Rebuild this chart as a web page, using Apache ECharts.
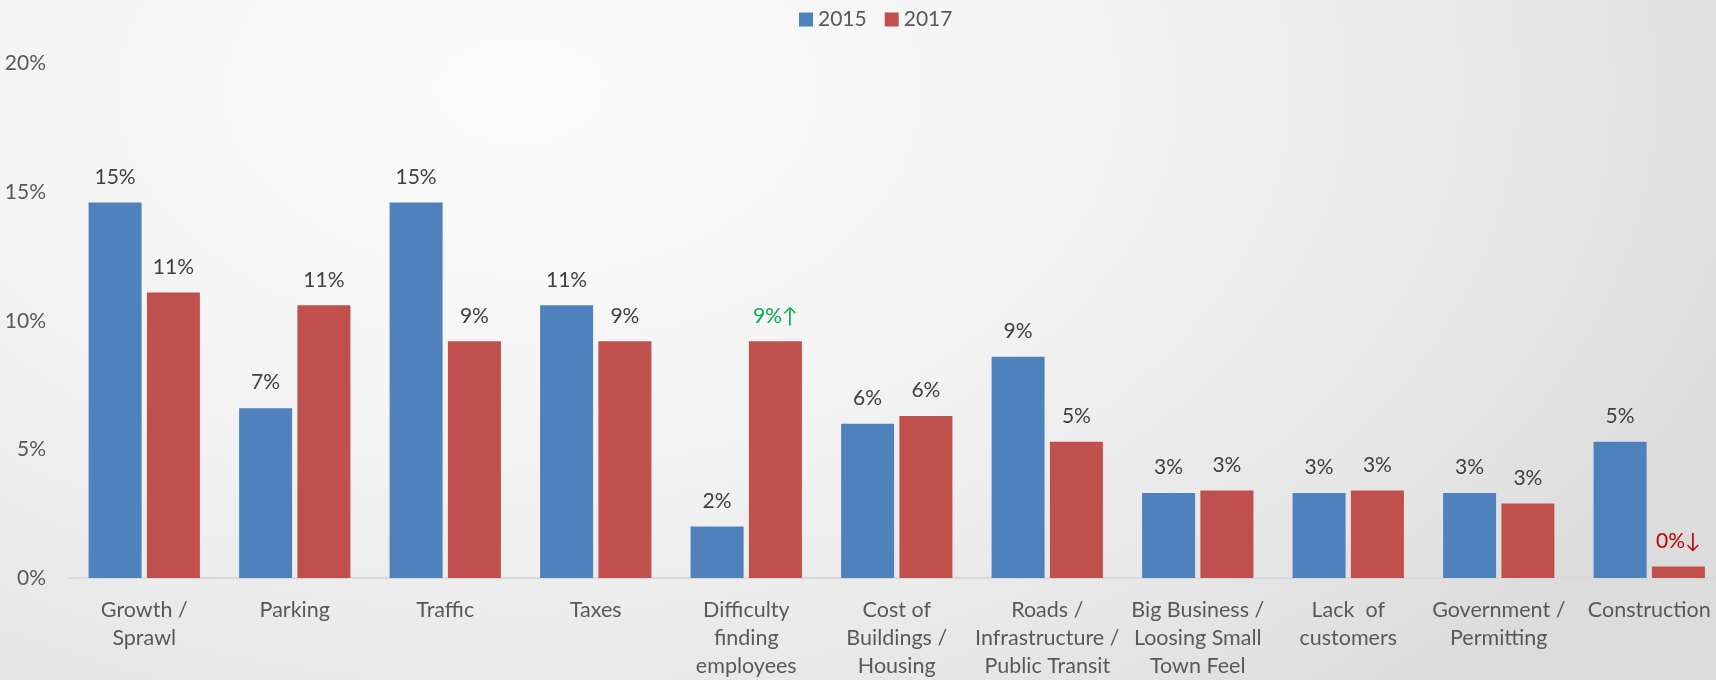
<!DOCTYPE html>
<html>
<head>
<meta charset="utf-8">
<title>Biggest issues facing local business, 2015 vs 2017</title>
<script src="https://cdn.jsdelivr.net/npm/echarts@6/dist/echarts.min.js"></script>
<style>
  html, body { margin: 0; padding: 0; }
  body {
    width: 1716px; height: 680px; overflow: hidden;
    background: radial-gradient(ellipse 1300px 820px at 520px 90px, #fcfcfc 0%, #f3f3f3 45%, #e6e6e6 80%, #dcdcdc 100%);
  }
  #chart { width: 1716px; height: 680px; }
</style>
</head>
<body>
<div id="chart"></div>
<script>
// Issue categories (line breaks as shown under the axis)
const categories = [
  'Growth /\nSprawl',
  'Parking',
  'Traffic',
  'Taxes',
  'Difficulty\nfinding\nemployees',
  'Cost of\nBuildings /\nHousing',
  'Roads /\nInfrastructure /\nPublic Transit',
  'Big Business /\nLoosing Small\nTown Feel',
  'Lack  of\ncustomers',
  'Government /\nPermitting',
  'Construction'
];

// Share of responses, in percent
const values2015 = [14.6, 6.6, 14.6, 10.6, 2.0, 6.0, 8.6, 3.3, 3.3, 3.3, 5.3];
const values2017 = [11.1, 10.6, 9.2, 9.2, 9.2, 6.3, 5.3, 3.4, 3.4, 2.9, 0.45];

// Notable changes flagged on the 2017 labels
const trend2017 = ['', '', '', '', 'up', '', '', '', '', '', 'down'];

const yTicks = [0, 5, 10, 15, 20];

const FONT = 'Lato, "Open Sans", sans-serif';
const BLUE = '#4F81BD';
const RED = '#C0504D';
const arrows = { up: '\u2191', down: '\u2193' };
const trendColors = { up: '#00B050', down: '#C00000' };

const pct = v => Math.round(v) + '%';

const data2017 = values2017.map((v, i) => {
  const t = trend2017[i];
  if (!t) return v;
  return {
    value: v,
    label: {
      color: trendColors[t],
      formatter: p => pct(p.value) + arrows[t]
    }
  };
});

const labelStyle = {
  show: true,
  position: 'top',
  distance: 15,
  fontFamily: FONT,
  fontSize: 21,
  color: '#404040',
  formatter: p => pct(p.value)
};

const chart = echarts.init(document.getElementById('chart'), null, { renderer: 'canvas' });

chart.setOption({
  backgroundColor: 'transparent',
  animation: false,
  legend: {
    top: 4,
    left: 794,
    icon: 'rect',
    itemWidth: 14,
    itemHeight: 14,
    itemGap: 18,
    textStyle: { fontFamily: FONT, fontSize: 21, color: '#595959' },
    data: ['2015', '2017']
  },
  grid: {
    left: 69,
    top: 63.5,
    width: 1655.5,
    height: 514.5,
    containLabel: false,
    outerBoundsMode: 'none'
  },
  xAxis: {
    type: 'category',
    data: categories,
    axisTick: { show: false },
    axisLine: { lineStyle: { color: '#d9d9d9', width: 2 } },
    axisLabel: {
      interval: 0,
      margin: 18,
      fontFamily: FONT,
      fontSize: 21.5,
      lineHeight: 28,
      color: '#595959',
      align: 'center'
    }
  },
  yAxis: {
    type: 'value',
    min: yTicks[0],
    max: yTicks[yTicks.length - 1],
    interval: yTicks[1] - yTicks[0],
    splitLine: { show: false },
    axisLine: { show: false },
    axisTick: { show: false },
    axisLabel: {
      margin: 23,
      fontFamily: FONT,
      fontSize: 21,
      color: '#595959',
      formatter: '{value}%'
    }
  },
  series: [
    {
      name: '2015',
      type: 'bar',
      data: values2015,
      barWidth: 53,
      barGap: '10%',
      itemStyle: { color: BLUE },
      label: labelStyle
    },
    {
      name: '2017',
      type: 'bar',
      data: data2017,
      barWidth: 53,
      barGap: '10%',
      itemStyle: { color: RED },
      label: labelStyle
    }
  ]
});
</script>
</body>
</html>
